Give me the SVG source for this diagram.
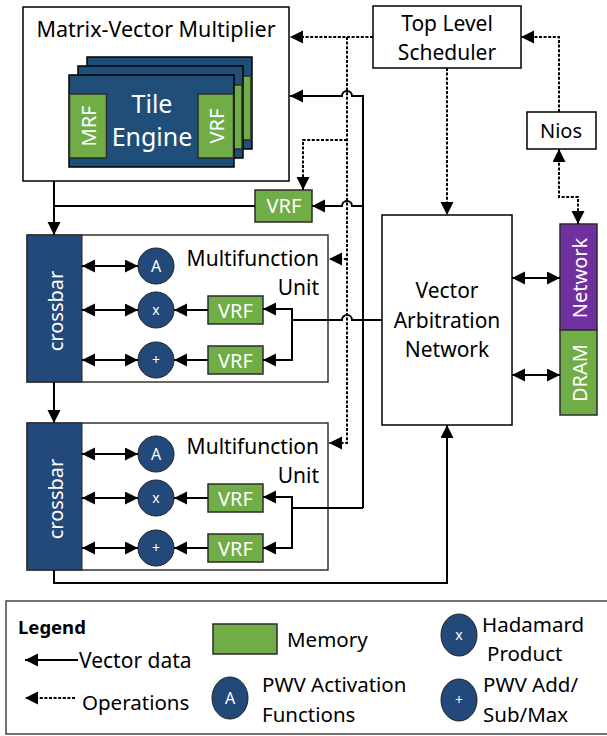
<svg xmlns="http://www.w3.org/2000/svg" width="607" height="736" viewBox="0 0 607 736">
<style>
text{font-family:"Noto Sans","Open Sans",sans-serif;fill:#000}
.w{fill:#fff}
.box{fill:#fff;stroke:#000;stroke-width:1.5}
.mfu{fill:#fff;stroke:#333;stroke-width:1.5}
.blue{fill:#23487A;stroke:#222;stroke-width:1}
.tile{fill:#1F4E79;stroke:#000;stroke-width:1.5}
.green{fill:#70AD47;stroke:#2b2b2b;stroke-width:1.5}
.purple{fill:#7030A0;stroke:#2b2b2b;stroke-width:1.5}
.s{fill:none;stroke:#000;stroke-width:2}
.d{fill:none;stroke:#000;stroke-width:2;stroke-dasharray:3 1.6}
.c{text-anchor:middle}
</style>
<defs>
<marker id="ah" markerUnits="userSpaceOnUse" markerWidth="14" markerHeight="14" refX="13" refY="6.5" orient="auto-start-reverse">
<path d="M0,0 L13,6.5 L0,13 z" fill="#000"/>
</marker>
</defs>

<g id="mvm">
<rect class="box" x="23" y="7" width="266" height="174"/>
<text class="c" x="156" y="37" font-size="21.5">Matrix-Vector Multiplier</text>
<g id="tile3">
<rect class="tile" x="87" y="57" width="165" height="92"/>
<rect class="green" x="216" y="76" width="35" height="64" stroke-width="1"/>
</g>
<g id="tile2">
<rect class="tile" x="78" y="66" width="165" height="92"/>
<rect class="green" x="207" y="85" width="35" height="64" stroke-width="1"/>
</g>
<g id="tile1">
<rect class="tile" x="69" y="75" width="165" height="92"/>
<rect class="green" x="69.5" y="94" width="37" height="64" stroke-width="1"/>
<rect class="green" x="198" y="94" width="35.5" height="64" stroke-width="1"/>
<text class="c w" x="152" y="113" font-size="25">Tile</text>
<text class="c w" x="152" y="146" font-size="25">Engine</text>
<text class="c w" transform="translate(88,126) rotate(-90)" font-size="20" dominant-baseline="central">MRF</text>
<text class="c w" transform="translate(216,126) rotate(-90)" font-size="20" dominant-baseline="central">VRF</text>
</g>
</g>

<g id="tls">
<rect class="box" x="373" y="6" width="148" height="62"/>
<text class="c" x="447" y="31" font-size="21">Top Level</text>
<text class="c" x="447" y="60" font-size="21">Scheduler</text>
</g>

<g id="nios">
<rect class="box" x="527" y="112" width="69" height="37"/>
<text class="c" x="561" y="138" font-size="20">Nios</text>
</g>

<g id="vrf-top">
<rect class="green" x="255" y="190" width="57" height="32"/>
<text class="c w" x="284" y="213" font-size="20">VRF</text>
</g>

<g id="mfu1">
<rect class="mfu" x="27" y="235" width="301" height="147"/>
<rect class="blue" x="27" y="235" width="55" height="147"/>
<text class="c w" transform="translate(55,311) rotate(-90)" font-size="20" dominant-baseline="central">crossbar</text>
<text x="319" y="266" font-size="21" text-anchor="end">Multifunction</text>
<text x="319" y="295" font-size="21" text-anchor="end">Unit</text>
<circle class="blue" cx="156" cy="266" r="18"/>
<text class="c w" x="156" y="272" font-size="16">A</text>
<circle class="blue" cx="156" cy="310" r="18"/>
<text class="c w" x="156" y="315" font-size="14">x</text>
<circle class="blue" cx="156" cy="360" r="18"/>
<text class="c w" x="156" y="365" font-size="14">+</text>
<rect class="green" x="208" y="296" width="55" height="28" stroke-width="1"/>
<text class="c w" x="235.5" y="318" font-size="20">VRF</text>
<rect class="green" x="208" y="346" width="55" height="28" stroke-width="1"/>
<text class="c w" x="235.5" y="368" font-size="20">VRF</text>
</g>

<g id="mfu2">
<rect class="mfu" x="27" y="423" width="301" height="147"/>
<rect class="blue" x="27" y="423" width="55" height="147"/>
<text class="c w" transform="translate(55,499) rotate(-90)" font-size="20" dominant-baseline="central">crossbar</text>
<text x="319" y="454" font-size="21" text-anchor="end">Multifunction</text>
<text x="319" y="483" font-size="21" text-anchor="end">Unit</text>
<circle class="blue" cx="156" cy="454" r="18"/>
<text class="c w" x="156" y="460" font-size="16">A</text>
<circle class="blue" cx="156" cy="498" r="18"/>
<text class="c w" x="156" y="503" font-size="14">x</text>
<circle class="blue" cx="156" cy="548" r="18"/>
<text class="c w" x="156" y="553" font-size="14">+</text>
<rect class="green" x="208" y="484" width="55" height="28" stroke-width="1"/>
<text class="c w" x="235.5" y="506" font-size="20">VRF</text>
<rect class="green" x="208" y="534" width="55" height="28" stroke-width="1"/>
<text class="c w" x="235.5" y="556" font-size="20">VRF</text>
</g>

<g id="van">
<rect class="box" x="382" y="215" width="130" height="210"/>
<text class="c" x="447" y="298" font-size="21">Vector</text>
<text class="c" x="447" y="328" font-size="21">Arbitration</text>
<text class="c" x="447" y="357" font-size="21">Network</text>
</g>

<g id="network">
<rect class="purple" x="560" y="224" width="37" height="106"/>
<text class="c w" transform="translate(579,278) rotate(-90)" font-size="20" dominant-baseline="central">Network</text>
</g>
<g id="dram">
<rect class="green" x="560" y="330" width="37" height="85"/>
<text class="c w" transform="translate(579,373) rotate(-90)" font-size="20" dominant-baseline="central">DRAM</text>
</g>

<g id="connectors">
<path class="d" d="M373,37 H290" marker-end="url(#ah)"/>
<path class="d" d="M347,37 V443 H329" marker-end="url(#ah)"/>
<path class="d" d="M347,259 H329" marker-end="url(#ah)"/>
<path class="d" d="M347,140 H303 V190" marker-end="url(#ah)"/>
<path class="d" d="M447,68 V215" marker-end="url(#ah)"/>
<path class="d" d="M559,112 V37 H521" marker-end="url(#ah)"/>
<path class="d" d="M559,149 V197 H578 V224" marker-start="url(#ah)" marker-end="url(#ah)"/>
<path class="s" d="M363,508 V96 H352 A5,5 0 0 0 342,96 H290" marker-end="url(#ah)"/>
<path class="s" d="M363,206 H352 A5,5 0 0 0 342,206 H312" marker-end="url(#ah)"/>
<path class="s" d="M382,320 H352 A5,5 0 0 0 342,320 H292"/>
<path class="s" d="M292,320 V309 H263" marker-end="url(#ah)"/>
<path class="s" d="M292,320 V360 H263" marker-end="url(#ah)"/>
<path class="s" d="M363,508 H292"/>
<path class="s" d="M292,508 V497 H263" marker-end="url(#ah)"/>
<path class="s" d="M292,508 V548 H263" marker-end="url(#ah)"/>
<path class="s" d="M208,310 H174" marker-end="url(#ah)"/>
<path class="s" d="M208,360 H174" marker-end="url(#ah)"/>
<path class="s" d="M208,498 H174" marker-end="url(#ah)"/>
<path class="s" d="M208,548 H174" marker-end="url(#ah)"/>
<path class="s" d="M82,266 H138" marker-start="url(#ah)" marker-end="url(#ah)"/>
<path class="s" d="M82,310 H138" marker-start="url(#ah)" marker-end="url(#ah)"/>
<path class="s" d="M82,360 H138" marker-start="url(#ah)" marker-end="url(#ah)"/>
<path class="s" d="M82,454 H138" marker-start="url(#ah)" marker-end="url(#ah)"/>
<path class="s" d="M82,498 H138" marker-start="url(#ah)" marker-end="url(#ah)"/>
<path class="s" d="M82,548 H138" marker-start="url(#ah)" marker-end="url(#ah)"/>
<path class="s" d="M54,181 V235" marker-end="url(#ah)"/>
<path class="s" d="M255,206 H54"/>
<path class="s" d="M54,382 V423" marker-end="url(#ah)"/>
<path class="s" d="M54,570 V583 H447 V425" marker-end="url(#ah)"/>
<path class="s" d="M512,278 H560" marker-start="url(#ah)" marker-end="url(#ah)"/>
<path class="s" d="M512,375 H560" marker-start="url(#ah)" marker-end="url(#ah)"/>
</g>

<g id="legend">
<rect x="6" y="601" width="610" height="133" fill="#fff" stroke="#444" stroke-width="1.5"/>
<text x="18" y="634" font-size="18.5" font-weight="bold">Legend</text>
<path class="s" d="M78,660 H25" marker-end="url(#ah)"/>
<text x="79" y="668" font-size="21">Vector data</text>
<path class="d" d="M75,698 H25" marker-end="url(#ah)"/>
<text x="82" y="710" font-size="20.5">Operations</text>
<rect class="green" x="213" y="624" width="64" height="30" stroke-width="1"/>
<text x="287" y="647" font-size="20.5">Memory</text>
<ellipse class="blue" cx="230" cy="698" rx="18" ry="21"/>
<text class="c w" x="230" y="704" font-size="16">A</text>
<text x="262" y="692" font-size="20.5">PWV Activation</text>
<text x="262" y="722" font-size="20.5">Functions</text>
<ellipse class="blue" cx="459" cy="635" rx="18" ry="21"/>
<text class="c w" x="459" y="640" font-size="14">x</text>
<text x="482" y="632" font-size="20.5">Hadamard</text>
<text x="487" y="661" font-size="20.5">Product</text>
<ellipse class="blue" cx="459" cy="700" rx="18" ry="21"/>
<text class="c w" x="459" y="705" font-size="14">+</text>
<text x="483" y="692" font-size="20.5">PWV Add/</text>
<text x="483" y="722" font-size="20.5">Sub/Max</text>
</g>
</svg>
